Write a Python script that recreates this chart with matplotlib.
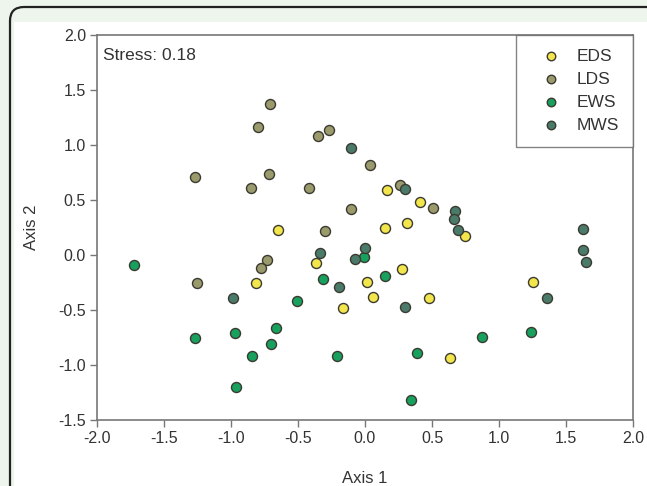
import matplotlib
matplotlib.use("Agg")
import matplotlib.pyplot as plt
from matplotlib.patches import FancyBboxPatch, Rectangle
from matplotlib.transforms import IdentityTransform

plt.rcParams['font.family'] = ['Liberation Sans', 'DejaVu Sans']

eds_x = [-0.652, -0.816, -0.368, -0.167, 0.012, 0.057, 0.162, 0.152, 0.41, 0.311, 0.744, 0.279, 0.478, 0.637, 1.256]
eds_y = [0.224, -0.252, -0.076, -0.485, -0.245, -0.382, 0.594, 0.245, 0.482, 0.291, 0.176, -0.124, -0.388, -0.933, -0.248]

lds_x = [-0.709, -0.80, -0.348, -0.271, 0.037, -1.269, -0.716, -0.851, -0.416, -0.102, -0.301, 0.261, 0.51, -0.734, -0.779, -1.254]
lds_y = [1.37, 1.16, 1.08, 1.14, 0.818, 0.712, 0.739, 0.612, 0.612, 0.421, 0.218, 0.636, 0.43, -0.045, -0.115, -0.258]

ews_x = [-1.724, -1.266, -0.970, -0.965, -0.846, -0.704, -0.662, -0.505, -0.316, -0.211, -0.007, 0.152, 0.39, 0.341, 0.871, 1.239]
ews_y = [-0.091, -0.757, -0.706, -1.2, -0.918, -0.809, -0.664, -0.421, -0.221, -0.918, -0.018, -0.194, -0.894, -1.315, -0.748, -0.70]

mws_x = [-0.104, 0.299, 0.669, 0.664, 0.694, -0.336, 0.002, -0.072, -0.192, 0.299, -0.985, 1.36, 1.627, 1.629, 1.652]
mws_y = [0.97, 0.603, 0.397, 0.327, 0.224, 0.021, 0.067, -0.039, -0.291, -0.47, -0.388, -0.391, 0.239, 0.045, -0.061]

xticks = [-2.0, -1.5, -1.0, -0.5, 0.0, 0.5, 1.0, 1.5, 2.0]
yticks = [-1.5, -1.0, -0.5, 0.0, 0.5, 1.0, 1.5, 2.0]

fig = plt.figure(figsize=(6.47, 4.86), dpi=100)
fig.patch.set_facecolor('#edf5ec')

# page frame behind the chart (pixel coords)
frame = FancyBboxPatch((10, -30), 700, 486 - 7 + 30, boxstyle="round,pad=0,rounding_size=14",
                       transform=IdentityTransform(), facecolor='#edf5ec', edgecolor='#222222', lw=1.6, zorder=0)
fig.add_artist(frame)
inner = Rectangle((14, -30), 700, 486 - 22 + 30, transform=IdentityTransform(),
                  facecolor='white', edgecolor='none', zorder=0.5)
fig.add_artist(inner)

ax = fig.add_axes([97/647, 66/486, 536/647, 385/486])
ax.set_zorder(2)

kw = dict(s=52, edgecolors='#3a3a30', linewidths=1.0, zorder=3)
ax.scatter(eds_x, eds_y, c='#f3e54c', label='EDS', **kw)
ax.scatter(lds_x, lds_y, c='#9b9a6c', label='LDS', **kw)
ax.scatter(ews_x, ews_y, c='#17a05e', label='EWS', **kw)
ax.scatter(mws_x, mws_y, c='#4a7b6a', label='MWS', **kw)

ax.set_xlim(-2.0, 2.0)
ax.set_ylim(-1.5, 2.0)
ax.set_xticks(xticks)
ax.set_yticks(yticks)
ax.set_xticklabels(['%.1f' % t for t in xticks])
ax.set_yticklabels(['%.1f' % t for t in yticks])
ax.tick_params(direction='out', length=5, width=1, color='#777777', labelsize=11.5, labelcolor='#333333', pad=3)
for s in ax.spines.values():
    s.set_color('#777777')
    s.set_linewidth(1.2)

ax.set_xlabel('Axis 1', fontsize=12, color='#333333', labelpad=18)
ax.set_ylabel('Axis 2', fontsize=12, color='#333333', labelpad=14)

ax.text(0.012, 0.965, 'Stress: 0.18', transform=ax.transAxes, fontsize=12.5, color='#333333', va='top', ha='left')

leg = ax.legend(loc='upper right', bbox_to_anchor=(1.0, 1.0), fontsize=12.5, markerscale=0.85,
                frameon=True, fancybox=False, borderpad=0.8, labelspacing=0.45, handletextpad=0.3,
                borderaxespad=0, handlelength=2.4)
leg.get_frame().set_edgecolor('#666666')
leg.get_frame().set_linewidth(1.0)
for t in leg.get_texts():
    t.set_color('#333333')

fig.savefig('out.png', dpi=100, facecolor=fig.get_facecolor())
